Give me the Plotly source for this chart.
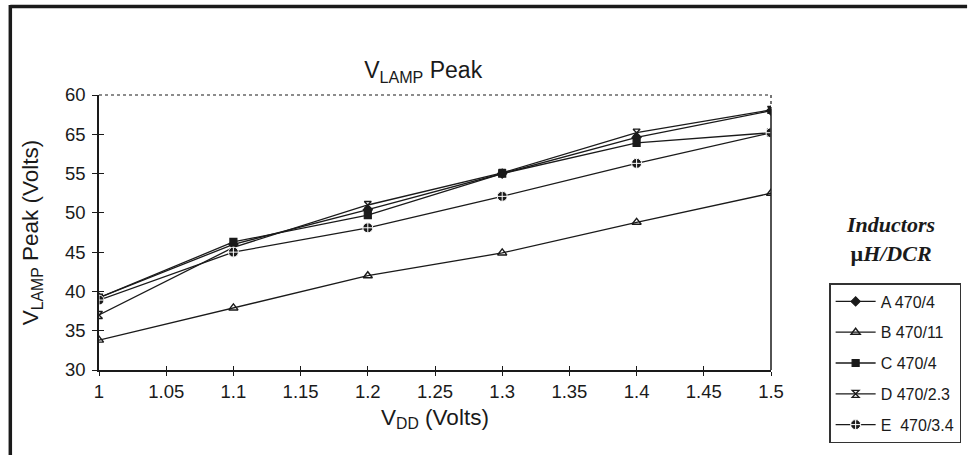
import plotly.graph_objects as go

vdd = [1.0, 1.1, 1.2, 1.3, 1.4, 1.5]
series_names = ["A 470/4", "B 470/11", "C 470/4", "D 470/2.3", "E\u00a0 470/3.4"]
a_vals = [39.2, 46.0, 50.4, 55.0, 59.6, 63.0]
b_vals = [33.8, 37.9, 42.0, 44.9, 48.8, 52.5]
c_vals = [39.2, 46.3, 49.7, 55.0, 58.9, 60.2]
d_vals = [37.0, 45.6, 51.0, 55.1, 60.2, 63.1]
e_vals = [38.9, 45.0, 48.1, 52.1, 56.3, 60.2]
x_ticks = [1, 1.05, 1.1, 1.15, 1.2, 1.25, 1.3, 1.35, 1.4, 1.45, 1.5]
x_ticktext = ["1", "1.05", "1.1", "1.15", "1.2", "1.25", "1.3", "1.35", "1.4", "1.45", "1.5"]
y_ticks = [30, 35, 40, 45, 50, 55, 60, 65]
y_ticktext = ["30", "35", "40", "45", "50", "55", "65", "60"]

values = [a_vals, b_vals, c_vals, d_vals, e_vals]
symbols = ["diamond", "triangle-up-open", "square", "hourglass-open", "circle-cross"]
sizes = [7, 8, 7, 7, 10]
line_cols = ["#1a1a1a", "#1a1a1a", "#1a1a1a", "#1a1a1a", "white"]
line_w = [1.2, 1.4, 1.2, 1.3, 1.0]

INK = "#1a1a1a"
fig = go.Figure()
for i, (name, vals, sym, sz, lc, lw) in enumerate(zip(series_names, values, symbols, sizes, line_cols, line_w)):
    fig.add_trace(go.Scatter(
        x=vdd, y=vals, name=name, mode="lines+markers", legendgroup=f"g{i}",
        line=dict(color=INK, width=1.3),
        marker=dict(symbol=sym, size=sz, color=INK, line=dict(color=lc, width=lw)),
    ))

# invisible trace on overlay axes (for crossing tick marks)
fig.add_trace(go.Scatter(x=[1.0], y=[30], yaxis="y2", xaxis="x2", mode="markers",
                         marker=dict(opacity=0), showlegend=False, hoverinfo="skip"))

font_main = "Liberation Sans, Arial, sans-serif"
L, R, T, B = 99, 781, 95, 370
W = R - L
H = B - T

fig.update_layout(
    width=973, height=455,
    margin=dict(l=L, r=973 - R, t=T, b=455 - B),
    paper_bgcolor="white", plot_bgcolor="white",
    font=dict(family=font_main, color=INK, size=18),
    title=dict(text="V<sub>LAMP</sub> Peak", x=(428 - L) / W, xref="paper", xanchor="center",
               y=1 - 70 / 455, yref="container", yanchor="middle",
               font=dict(size=23, family=font_main)),
    xaxis=dict(range=[1.0, 1.5], tickvals=x_ticks, ticktext=x_ticktext,
               showgrid=False, zeroline=False, showline=True, linecolor=INK,
               linewidth=1.5, ticks="outside", ticklen=4, tickwidth=1.3,
               tickcolor=INK, tickfont=dict(size=18.5),
               title=dict(text="V<sub>DD</sub> (Volts)", font=dict(size=22.5), standoff=8)),
    yaxis=dict(range=[30, 65], tickvals=y_ticks, ticktext=y_ticktext,
               showgrid=False, zeroline=False, showline=True, linecolor=INK,
               linewidth=1.5, ticks="outside", ticklen=5, tickwidth=1.3,
               tickcolor=INK, tickfont=dict(size=18.5), ticklabelstandoff=3,
               title=dict(text="V<sub>LAMP</sub> Peak (Volts)", font=dict(size=22.5), standoff=20)),
    xaxis2=dict(range=[1.0, 1.5], overlaying="x", anchor="y", side="bottom",
                tickvals=x_ticks, showticklabels=False, ticks="inside", ticklen=4,
                tickwidth=1.3, tickcolor=INK, showgrid=False, zeroline=False, showline=False),
    yaxis2=dict(range=[30, 65], overlaying="y", anchor="x", side="left",
                tickvals=y_ticks, showticklabels=False, ticks="inside", ticklen=5,
                tickwidth=1.3, tickcolor=INK, showgrid=False, zeroline=False, showline=False),
    legend=dict(x=(840 - L) / W, y=(B - 283) / H, xanchor="left", yanchor="top",
                bordercolor="#333333", borderwidth=1.5, bgcolor="white",
                font=dict(size=16, family=font_main), tracegroupgap=7, itemwidth=40),
    showlegend=True,
)

shapes = [
    # dotted top border of plot area
    dict(type="line", xref="x domain", yref="y domain", x0=0, x1=1, y0=1, y1=1,
         line=dict(color=INK, width=1.2, dash="dot")),
    # right border: dotted top, solid below
    dict(type="line", xref="x domain", yref="y domain", x0=1, x1=1, y0=1, y1=0.95,
         line=dict(color=INK, width=1.2, dash="dot")),
    dict(type="line", xref="x domain", yref="y domain", x0=1, x1=1, y0=0.95, y1=0,
         line=dict(color=INK, width=1.5)),
    # outer frame: top and left thick lines
    dict(type="line", xref="paper", yref="paper", x0=(9 - L) / W, x1=(980 - L) / W,
         y0=(B - 6.5) / H, y1=(B - 6.5) / H, line=dict(color=INK, width=3.5)),
    dict(type="line", xref="paper", yref="paper", x0=(9 - L) / W, x1=(9 - L) / W,
         y0=(B - 5) / H, y1=(B - 470) / H, line=dict(color=INK, width=3.5)),
]
fig.update_layout(shapes=shapes)

fig.add_annotation(
    text="<b><i>Inductors</i></b><br><b>µ<i>H/DCR</i></b>",
    xref="paper", yref="paper", x=(902 - L) / W, y=(B - 239) / H,
    xanchor="center", yanchor="middle", showarrow=False, align="center",
    font=dict(family="Liberation Serif, Times New Roman, serif", size=22, color=INK),
)

fig.write_html("out.html", config={"displayModeBar": False},
               post_script="document.body.style.margin='0';")
